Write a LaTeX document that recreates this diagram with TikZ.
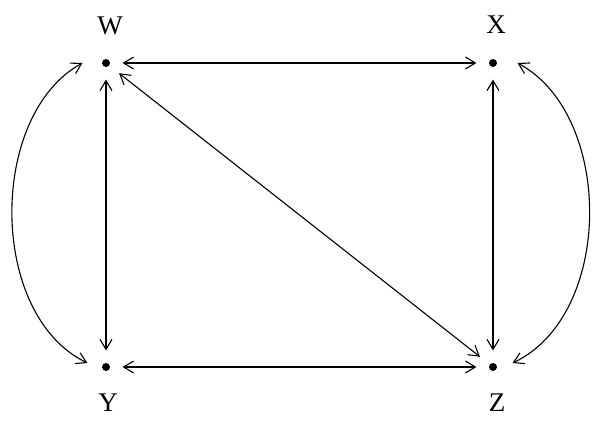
\documentclass[tikz,border=0pt]{standalone}
\usepackage{fontspec}
\setmainfont{Liberation Serif}
\usetikzlibrary{arrows.meta}
\begin{document}
\begin{tikzpicture}[x=1pt,y=-1pt,
  >={Straight Barb[length=10pt,width=12pt]},
  line width=1.1pt,
  pt/.style={circle, minimum size=32pt, inner sep=0pt},
  lab/.style={font=\fontsize{27}{31}\selectfont, inner sep=0pt},
  link/.style={<->}]
\useasboundingbox (0,0) rectangle (615,420);
\node[pt] (W) at (106,63) {};
\node[pt] (X) at (493,63) {};
\node[pt] (Y) at (106,367) {};
\node[pt] (Z) at (493,367) {};
\fill (W) circle (4pt);
\fill (X) circle (4pt);
\fill (Y) circle (4pt);
\fill (Z) circle (4pt);
\node[lab] (lW) at (110,26) {W};
\node[lab] (lX) at (496,25) {X};
\node[lab] (lY) at (108,403) {Y};
\node[lab] (lZ) at (497,403) {Z};
\draw[link] (W) -- (X);
\draw[link] (W) -- (Y);
\draw[link] (W) -- (Z);
\draw[link] (X) -- (Z);
\draw[link] (Y) -- (Z);
\draw[link] ([shift={(-7,0)}]W.west) .. controls (-12,115) and (-12,315) .. ([shift={(-2,-4)}]Y.west);
\draw[link] ([shift={(8,0)}]X.east) .. controls (614,115) and (614,315) .. ([shift={(3,-4)}]Z.east);
\end{tikzpicture}
\end{document}
